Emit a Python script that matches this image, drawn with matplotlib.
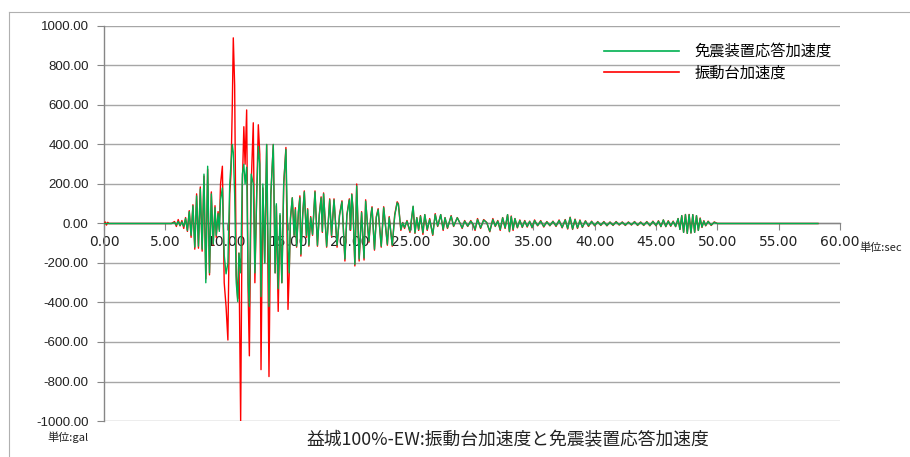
import matplotlib
matplotlib.use("Agg")
import matplotlib.pyplot as plt
from matplotlib.lines import Line2D

# ---- data ----
time_s = [0.0, 0.1, 0.2, 0.3, 0.4, 5.5, 5.75, 5.9, 6.05, 6.2, 6.35, 6.5, 6.65, 6.8, 6.95,
          7.1, 7.25, 7.4, 7.55, 7.7, 7.85, 8.0, 8.15, 8.3, 8.45, 8.6, 8.75, 8.9, 9.05, 9.15,
          9.3, 9.4, 9.5, 9.65, 9.8, 9.95, 10.1, 10.25, 10.35, 10.46, 10.54, 10.65, 10.78, 10.9,
          11.0, 11.14, 11.28, 11.4, 11.5, 11.63, 11.75, 11.85, 12.0, 12.17, 12.3, 12.45, 12.58,
          12.7, 12.8, 12.95, 13.1, 13.26, 13.45, 13.6, 13.8, 13.95, 14.05, 14.2, 14.35, 14.5,
          14.65, 14.83, 15.0, 15.1, 15.2, 15.35, 15.5, 15.6, 15.7, 15.85, 15.97, 16.05, 16.2,
          16.33, 16.5, 16.6, 16.7, 16.85, 17.0, 17.2, 17.4, 17.55, 17.7, 17.8, 17.9, 18.15,
          18.3, 18.4, 18.55, 18.75, 19.0, 19.2, 19.4, 19.64, 19.8, 20.0, 20.1, 20.2, 20.3,
          20.45, 20.6, 20.8, 21.0, 21.2, 21.33, 21.5, 21.6, 21.75, 21.85, 22.05, 22.2, 22.35,
          22.6, 22.8, 23.1, 23.25, 23.5, 23.7, 23.9, 24.0, 24.2, 24.35, 24.5, 24.7, 24.94,
          25.2, 25.35, 25.5, 25.65, 25.8, 26.0, 26.15, 26.35, 26.55, 26.8, 27.0, 27.2, 27.45,
          27.65, 27.8, 28.0, 28.3, 28.5, 28.8, 29.0, 29.2, 29.4, 29.65, 29.9, 30.1, 30.25,
          30.45, 30.7, 30.95, 31.2, 31.45, 31.7, 31.9, 32.1, 32.3, 32.5, 32.7, 32.9, 33.05,
          33.2, 33.35, 33.5, 33.7, 33.9, 34.1, 34.3, 34.5, 34.7, 34.9, 35.1, 35.35, 35.6,
          35.85, 36.1, 36.35, 36.6, 36.85, 37.1, 37.35, 37.6, 37.8, 38.0, 38.2, 38.4, 38.6,
          38.8, 39.0, 39.25, 39.5, 39.75, 40.0, 40.25, 40.5, 40.75, 41.0, 41.25, 41.5, 41.75,
          42.0, 42.25, 42.5, 42.75, 43.0, 43.25, 43.5, 43.75, 44.0, 44.25, 44.5, 44.75, 45.0,
          45.2, 45.4, 45.6, 45.8, 46.0, 46.2, 46.4, 46.6, 46.8, 46.95, 47.1, 47.25, 47.4,
          47.55, 47.7, 47.85, 48.0, 48.15, 48.3, 48.45, 48.6, 48.75, 48.9, 49.05, 49.25,
          49.5, 49.75, 50.0, 58.2]

isolator_acc = [0, 0, 0, 0, 0, 0, 5, -8, 10, -10, 8, -15, 25, -35, 60,
                -60, 90, -120, 140, -115, 175, -130, 250, -300, 290, -250, 150, -105, 80, -60,
                50, -40, 120, 180, -160, -255, -200, 200, 300, 400, 360, 150, -300, -395,
                -150, -250, 250, 300, 200, 285, -300, -420, 250, 200, -250, 150, 390,
                300, -370, 200, -200, 400, -420, 150, 400, -250, 100, -330, 50, -300,
                200, 375, -120, -250, 30, 130, -60, 70, -115, 60, 130, -155, 40,
                160, -60, 70, -110, 30, -55, 160, -110, 40, 130, -40, 150, -115,
                20, 120, -60, 120, -110, 40, 110, -180, 40, 120, -30, 147, 70,
                -207, 190, -180, 55, -175, 113, -20, -90, 37, 80, -130, 30, 70,
                -115, 80, -105, 30, -110, 40, 105, 95, -30, 3, -20, 12, -39,
                88, -47, 29, -30, 37, -47, 45, -30, 20, -56, 45, -13, 45,
                -30, 29, -22, 37, -13, 29, 3, -22, 12, -13, 12, -5, -30,
                20, -22, 17, 5, -39, 20, -13, 12, -30, 29, -22, 45, -40,
                35, -30, 25, -20, 15, -18, 12, -15, 10, -20, 15, -10, 12,
                -15, 8, -10, 10, -12, 15, -20, 18, -25, 30, -28, 20, -22,
                15, -18, 12, -12, 10, -10, 8, -8, 8, -10, 6, -8, 8,
                -6, 6, -8, 6, -6, 8, -8, 6, -8, 8, -10, 10, -10,
                12, -15, 18, -15, 12, -12, 10, -15, 25, -30, 40, -45, 45,
                -50, 45, -48, 45, -45, 40, -35, 25, -18, 12, -10, 10,
                -8, 6, 0, 0]

table_acc = [0, 8, -8, 6, 0, 0, 10, -15, 20, -12, 15, -25, 30, -40, 65,
             -70, 95, -130, 150, -125, 185, -140, 240, -280, 275, -260, 160, -110, 90, -70,
             60, -30, 200, 290, -300, -420, -590, 150, 250, 600, 940, 700, -260, -380,
             -150, -1000, 200, 490, 300, 575, -350, -670, 200, 510, -300, 150, 500,
             350, -740, 180, -200, 400, -775, 140, 400, -250, 90, -445, 40, -300,
             200, 385, -435, -250, 20, 130, -60, 80, -120, 60, 140, -165, 50,
             165, -70, 75, -115, 35, -60, 165, -115, 45, 135, -45, 155, -120,
             25, 125, -65, 125, -120, 45, 115, -190, 45, 125, -35, 150, 75,
             -215, 200, -190, 60, -185, 120, -25, -95, 40, 85, -135, 35, 75,
             -120, 85, -110, 35, -115, 45, 110, 100, -35, 5, -25, 15, -45,
             85, -50, 30, -35, 40, -55, 45, -35, 25, -60, 50, -15, 45,
             -35, 30, -25, 40, -15, 30, 5, -25, 15, -15, 15, -8, -35,
             25, -25, 20, 5, -42, 25, -15, 15, -35, 30, -25, 45, -42,
             38, -35, 25, -22, 18, -20, 15, -18, 12, -22, 18, -12, 15,
             -18, 10, -12, 12, -15, 18, -22, 20, -28, 32, -30, 22, -25,
             18, -20, 14, -15, 12, -12, 10, -10, 10, -12, 8, -10, 10,
             -8, 8, -10, 8, -8, 10, -10, 8, -10, 10, -12, 12, -12,
             14, -16, 18, -16, 14, -14, 12, -16, 25, -30, 40, -45, 46,
             -50, 46, -48, 45, -45, 40, -35, 28, -20, 14, -12, 12,
             -10, 8, 0, 0]

series_labels = ["免震装置応答加速度", "振動台加速度"]
x_ticks = [0, 5, 10, 15, 20, 25, 30, 35, 40, 45, 50, 55, 60]
y_ticks = [-1000, -800, -600, -400, -200, 0, 200, 400, 600, 800, 1000]
title_text = "益城100%-EW:振動台加速度と免震装置応答加速度"
x_unit = "単位:sec"
y_unit = "単位:gal"

# ---- style ----
JP = ["Noto Sans CJK JP", "DejaVu Sans"]
NUM = ["Liberation Sans", "DejaVu Sans"]
GREEN = "#00b050"
RED = "#ff0000"
GRID = "#a6a6a6"
AXIS = "#868686"

W, H = 910, 457
fig = plt.figure(figsize=(W / 100, H / 100), dpi=100)
fig.patch.set_facecolor("white")

# outer frame (left and top edges visible)
fig.add_artist(Line2D([9 / W, 9 / W], [0, 1 - 12 / H], transform=fig.transFigure,
                      color="#b0b0b0", lw=0.8))
fig.add_artist(Line2D([9 / W, 1], [1 - 12 / H, 1 - 12 / H], transform=fig.transFigure,
                      color="#b0b0b0", lw=0.8))

ax = fig.add_axes([104 / W, 1 - 421 / H, (840 - 104) / W, (421 - 26) / H])
ax.set_xlim(0, 60)
ax.set_ylim(-1000, 1000)

ax.plot(time_s, table_acc, color=RED, lw=1.0, label=series_labels[1], zorder=3)
ax.plot(time_s, isolator_acc, color=GREEN, lw=1.0, label=series_labels[0], zorder=4)

ax.set_yticks(y_ticks)
ax.set_xticks(x_ticks)
ax.set_yticklabels([f"{v:.2f}" for v in y_ticks], fontfamily=NUM, fontsize=9.5)
ax.set_xticklabels([f"{v:.2f}" for v in x_ticks], fontfamily=NUM, fontsize=9.5)
ax.tick_params(axis="y", direction="out", length=5, color=AXIS, width=0.8, pad=6,
               labelcolor="#222222")
ax.tick_params(axis="x", direction="out", length=5, color=AXIS, width=0.8, pad=3,
               labelcolor="#222222")

ax.yaxis.grid(True, color=GRID, lw=1.0, zorder=0)
ax.set_axisbelow(True)
for s in ["top", "right"]:
    ax.spines[s].set_visible(False)
ax.spines["bottom"].set_position(("data", 0))
ax.spines["bottom"].set_color(AXIS)
ax.spines["bottom"].set_linewidth(1.0)
ax.spines["left"].set_color(AXIS)
ax.spines["left"].set_linewidth(1.0)

# legend
handles = [Line2D([], [], color=GREEN, lw=1.2), Line2D([], [], color=RED, lw=1.2)]
fig.legend(handles, series_labels, loc="upper left",
           bbox_to_anchor=(604 / W, 1 - 43 / H), frameon=False,
           prop={"family": JP, "size": 11}, handlelength=4.9, handletextpad=1.0,
           labelspacing=0.3, borderpad=0, borderaxespad=0)

# unit labels and title
fig.text(859 / W, 1 - 248 / H, x_unit, family=JP, fontsize=8, ha="left", va="center",
         color="#222222")
fig.text(68 / W, 1 - 437 / H, y_unit, family=JP, fontsize=8, ha="center", va="center",
         color="#222222")
fig.text(508 / W, 1 - 440 / H, title_text, family=JP, fontsize=12.8, ha="center",
         va="center", color="#222222")

assert len(time_s) == len(isolator_acc) == len(table_acc)
fig.savefig("out.png", dpi=100, facecolor="white")
